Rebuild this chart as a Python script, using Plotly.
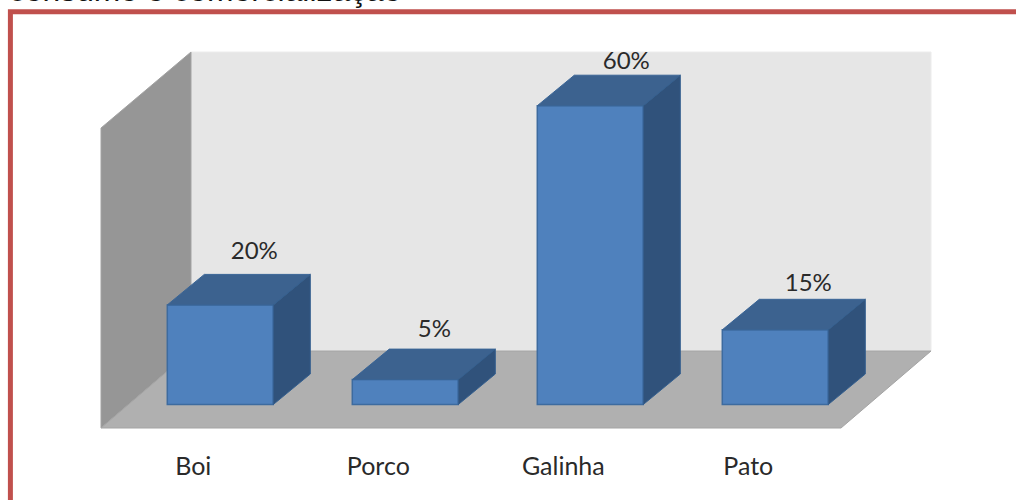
import plotly.graph_objects as go

categories = ["Boi", "Porco", "Galinha", "Pato"]
values = [20, 5, 60, 15]
labels = ["20%", "5%", "60%", "15%"]
title_fragment = "consumo e comercialização"

W, H_FULL, M_B = 1016, 500, 51
H = H_FULL - M_B
PX_PER_CAT, PX_PER_UNIT = 185.0, 4.98
X0_PX, Y0_PX = 220.3, 404.5      # pixel of category 0 / value 0
BAR_W = 106 / PX_PER_CAT
DX, DY = 37 / PX_PER_CAT, 30.5 / PX_PER_UNIT   # depth of a bar
NUDGE = [(34, 52), (29, 49), (36, 43), (33, 45)]  # label offset from bar centre top, px


def X(px):
    return (px - X0_PX) / PX_PER_CAT


def Y(py):
    return (Y0_PX - py) / PX_PER_UNIT


def poly(pts):
    return "M " + " L ".join(f"{X(a)},{Y(b)}" for a, b in pts) + " Z"


def wall(pts, fill, edge):
    return dict(type="path", xref="x", yref="y", layer="below", path=poly(pts),
                fillcolor=fill, line=dict(color=edge, width=1))


shapes = [
    wall([(191, 52), (931, 52), (931, 351), (191, 351)], "#e6e6e6", "#ececec"),
    wall([(101, 128), (191, 52), (191, 351), (101, 428)], "#969696", "#a2a2a2"),
    wall([(101, 428), (841, 428), (931, 351), (191, 351)], "#b0b0b0", "#a4a4a4"),
    dict(type="path", xref="paper", yref="paper", layer="above",
         path=f"M {10.4/W},{1-510/H} L {10.4/W},{1-11.8/H} L 1,{1-11.8/H}",
         line=dict(color="#c0504d", width=5)),
]

xs = list(range(len(categories)))
top_x, top_y, side_x, side_y = [], [], [], []
for i, v in zip(xs, values):
    l, r = i - BAR_W / 2, i + BAR_W / 2
    top_x += [l, r, r + DX, l + DX, l, None]
    top_y += [v, v, v + DY, v + DY, v, None]
    side_x += [r, r + DX, r + DX, r, r, None]
    side_y += [0, DY, v + DY, v, 0, None]

fig = go.Figure()
fig.add_bar(x=xs, y=values, width=BAR_W, marker=dict(color="#4f81bd", line=dict(color="#3d6b9f", width=1.5)),
            hoverinfo="skip")
fig.add_scatter(x=top_x, y=top_y, mode="lines", fill="toself", fillcolor="#3c628f",
                line=dict(color="#3a6596", width=1), hoverinfo="skip")
fig.add_scatter(x=side_x, y=side_y, mode="lines", fill="toself", fillcolor="#30527b",
                line=dict(color="#35608f", width=1), hoverinfo="skip")
fig.add_scatter(x=[i + n[0] / PX_PER_CAT for i, n in zip(xs, NUDGE)],
                y=[v + n[1] / PX_PER_UNIT for v, n in zip(values, NUDGE)],
                mode="text", text=labels, textposition="middle center",
                textfont=dict(family="Lato", size=24, color="#2a2a2a"), hoverinfo="skip")

fig.update_layout(
    width=W, height=H_FULL, margin=dict(l=0, r=0, t=0, b=M_B, pad=0),
    paper_bgcolor="white", plot_bgcolor="white", showlegend=False, shapes=shapes,
    xaxis=dict(range=[X(0), X(W)], showgrid=False, zeroline=False, showline=False,
               tickmode="array", tickvals=[i - 27 / PX_PER_CAT for i in xs], ticktext=categories,
               ticks="", tickfont=dict(family="Lato", size=25, color="#2a2a2a")),
    yaxis=dict(range=[Y(H), Y(0)], visible=False),
    annotations=[dict(xref="paper", yref="paper", x=7 / W, y=1 - 10.4 / H, xanchor="left", yanchor="bottom",
                      text=title_fragment, showarrow=False, align="left",
                      font=dict(family="Liberation Sans", size=31.8, color="#111111"))],
)
fig.write_html("out.html", config={"displayModeBar": False},
               post_script="document.body.style.margin='0';document.documentElement.style.overflow='hidden';")
